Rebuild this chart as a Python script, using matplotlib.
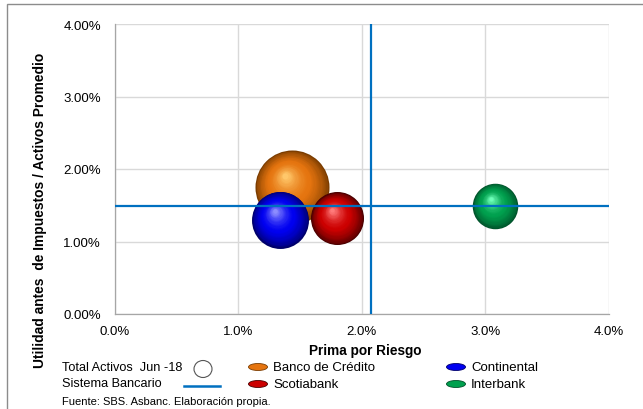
import matplotlib
matplotlib.use("Agg")
import matplotlib.pyplot as plt
import numpy as np
from matplotlib.transforms import offset_copy
from matplotlib.patches import Ellipse, Rectangle
from matplotlib.lines import Line2D
from matplotlib.ticker import FuncFormatter
import matplotlib.colors as mcolors

plt.rcParams['font.family'] = ['Liberation Sans', 'DejaVu Sans']

# ---- data ----
banks = ["Banco de Crédito", "Continental", "Scotiabank", "Interbank"]
prima_riesgo = [1.434, 1.337, 1.80, 3.08]        # % (x)
utilidad = [1.75, 1.30, 1.32, 1.49]              # % (y)
total_activos = [130000, 77000, 66700, 49100]    # bubble size
sistema_prima = 2.075                            # % vertical reference
sistema_utilidad = 1.49                          # % horizontal reference
xticks = [0, 1, 2, 3, 4]
yticks = [0, 1, 2, 3, 4]

# colours (dark edge, mid, highlight)
shades = {
    "Banco de Crédito": ("#7a3c00", "#e5740f", "#ffc76a"),
    "Continental": ("#00006a", "#0000f0", "#8c8cff"),
    "Scotiabank": ("#4a0000", "#cc0000", "#ff7a7a"),
    "Interbank": ("#00502a", "#00a04e", "#6dffb8"),
}

W, H, DPI = 643, 410, 100
fig = plt.figure(figsize=(W / DPI, H / DPI), dpi=DPI)

def fx(px):
    return px / W

def fy(py):
    return 1 - py / H

ax = fig.add_axes([fx(115), fy(315), fx(608.5) - fx(115), fy(25) - fy(315)])
ax.set_xlim(0, 4)
ax.set_ylim(0, 4)
ax.set_xticks(xticks)
ax.set_yticks(yticks)
ax.xaxis.set_major_formatter(FuncFormatter(lambda v, p: f"{v:.1f}%"))
ax.yaxis.set_major_formatter(FuncFormatter(lambda v, p: f"{v:.2f}%"))
ax.tick_params(length=0, labelsize=9.5, colors="#000000")
ax.tick_params(axis="y", pad=10)
ax.tick_params(axis="x", pad=8)
ax.grid(True, color="#d9d9d9", linewidth=1.0, zorder=0)
for s in ["top", "right"]:
    ax.spines[s].set_visible(False)
for s in ["left", "bottom"]:
    ax.spines[s].set_color("#a6a6a6")
    ax.spines[s].set_linewidth(0.9)

# bubbles with sphere shading
scale = 2840 / max(total_activos)
N = 28
for name, x, y, a in zip(banks, prima_riesgo, utilidad, total_activos):
    dark, mid, light = [np.array(mcolors.to_rgb(c)) for c in shades[name]]
    s0 = a * scale
    r_pt = np.sqrt(s0) / 2.0
    for i in range(N):
        t = i / (N - 1)
        rr = r_pt * (1 - 0.92 * t)
        dx = -0.18 * r_pt * t
        dy = 0.30 * r_pt * t
        if t < 0.45:
            c = dark + (mid - dark) * (t / 0.45) ** 0.7
        else:
            c = mid + (light - mid) * ((t - 0.45) / 0.55) ** 1.6
        tr = offset_copy(ax.transData, fig=fig, x=dx, y=dy, units="points")
        ax.scatter([x], [y], s=(2 * rr) ** 2, color=[np.clip(c, 0, 1)],
                   transform=tr, zorder=3, linewidths=0)

# reference lines
ax.axhline(sistema_utilidad, color="#0070c0", linewidth=1.6, zorder=5)
ax.axvline(sistema_prima, color="#0070c0", linewidth=1.6, zorder=5)

# labels
fig.text(fx(365), fy(351), "Prima por Riesgo", ha="center", va="center",
         fontsize=9.8, fontweight="bold")
fig.text(fx(40), fy(210), "Utilidad antes  de Impuestos / Activos Promedio",
         ha="center", va="center", rotation=90, fontsize=9.9, fontweight="bold")

# legend (manual)
fs_left = 9.2
fs = 9.5
fig.text(fx(62), fy(368), "Total Activos  Jun -18", ha="left", va="center", fontsize=fs_left)
fig.text(fx(62), fy(384), "Sistema Bancario", ha="left", va="center", fontsize=fs_left)
fig.patches.append(Ellipse((fx(203), fy(370)), fx(18), 17 / H, transform=fig.transFigure,
                           facecolor="white", edgecolor="#555555", linewidth=0.8))
fig.lines.append(Line2D([fx(184), fx(220)], [fy(387), fy(387)], transform=fig.transFigure,
                        color="#0070c0", linewidth=1.8))

leg_items = [("Banco de Crédito", 258, 368), ("Scotiabank", 258, 385),
             ("Continental", 456, 368), ("Interbank", 456, 385)]
for name, px, py in leg_items:
    dark, mid, light = shades[name]
    fig.patches.append(Ellipse((fx(px), fy(py)), fx(19), 7 / H, transform=fig.transFigure,
                               facecolor=mid, edgecolor=dark, linewidth=0.6))
    fig.text(fx(px + 15), fy(py), name, ha="left", va="center", fontsize=fs)

fig.text(fx(62), fy(402), "Fuente: SBS. Asbanc. Elaboración propia.", ha="left",
         va="center", fontsize=8)

# outer border
fig.patches.append(Rectangle((fx(7), -0.02), 1.1, fy(5) + 0.02, transform=fig.transFigure,
                             facecolor="none", edgecolor="#8c8c8c", linewidth=1.0))

fig.savefig("out.png", dpi=DPI)
